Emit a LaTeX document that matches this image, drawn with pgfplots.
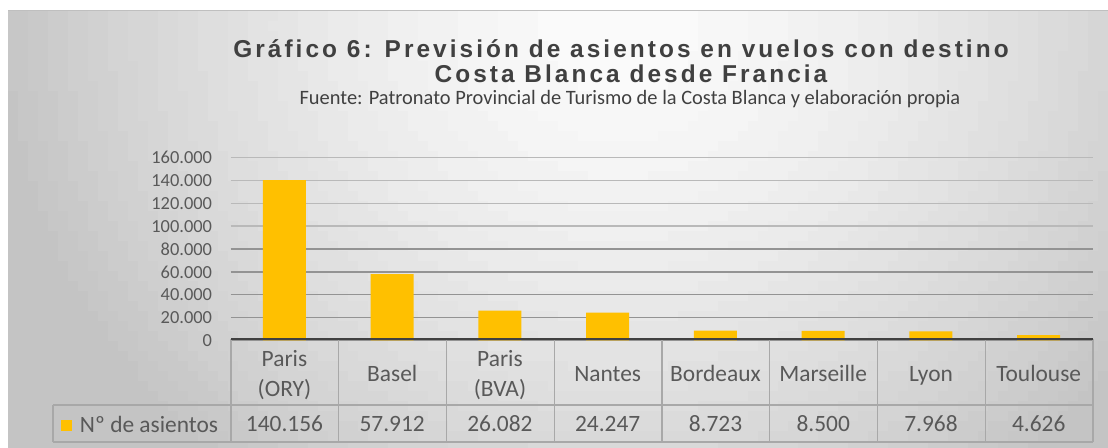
\documentclass[border=0pt]{standalone}
\usepackage{pgfplots}
\pgfplotsset{compat=1.18}
\usepackage{fontspec}
\setmainfont{Carlito}
\newfontfamily\titlefont[LetterSpace=12.5]{Liberation Sans}
\definecolor{barc}{HTML}{FFC000}
\definecolor{txt}{HTML}{595959}
\definecolor{ttl}{HTML}{404040}
\definecolor{tline}{HTML}{A8A8A8}
\begin{document}
\begin{tikzpicture}[x=1bp,y=1bp]
\useasboundingbox (0,0) rectangle (1108,448);
\fill[white] (0,0) rectangle (1108,448);
% background gradient (approximation of the chart-area shading)
\begin{scope}
\clip (8,0) rectangle (1108,437);
\foreach \i in {0,...,109}{
  \foreach \j in {0,...,43}{
    \pgfmathsetmacro\bgdx{(8+\i*10+5-620)/650}
    \pgfmathsetmacro\bgdy{(11+\j*10+5-25)/600}
    \pgfmathsetmacro\bgr{min(0.95,sqrt(\bgdx*\bgdx+\bgdy*\bgdy))+0.001}
    \pgfmathtruncatemacro\bgk{2+23*\bgr*sqrt(\bgr)}
    \fill[black!\bgk] ({8+\i*10},{437-\j*10}) rectangle ++(10.4,-10.4);
  }}
\end{scope}
\draw[gray!50, line width=1bp] (8,437) -- (1108,437);
% titles
\node[anchor=base, text=ttl, inner sep=0, font=\titlefont\bfseries\fontsize{24.5}{28}\selectfont] at (621,390) {Gráfico 6: Previsión de asientos en vuelos con destino};
\node[anchor=base, text=ttl, inner sep=0, font=\titlefont\bfseries\fontsize{24.5}{28}\selectfont] at (631,365) {Costa Blanca desde Francia};
\node[anchor=base, text=ttl, inner sep=0, font=\fontsize{20.5}{24}\selectfont] at (630,343) {Fuente: Patronato Provincial de Turismo de la Costa Blanca y elaboración propia};
\begin{axis}[
  at={(214,94)}, anchor=south west,
  scale only axis, width=862bp, height=183bp,
  xmin=-0.5, xmax=7.5, ymin=0, ymax=160000,
  axis line style={draw=none},
  major tick length=0pt,
  ytick={0,20000,40000,60000,80000},
  extra y ticks={100000,120000,140000,160000},
  ymajorgrids,
  grid style={draw=gray!85, line width=1.3bp},
  extra y tick style={grid style={draw=gray!55, line width=1.3bp}},
  scaled y ticks=false,
  /pgf/number format/.cd, fixed, 1000 sep={.}, assume math mode=true, /pgfplots/.cd,
  yticklabel style={font=\fontsize{18.5}{22}\selectfont, text=txt, xshift=-15bp},
  xtick={0,...,7},
  xticklabels={{\strut Paris\\\strut (ORY)},{\strut Basel},{\strut Paris\\\strut (BVA)},{\strut Nantes},{\strut Bordeaux},{\strut Marseille},{\strut Lyon},{\strut Toulouse}},
  xticklabel style={anchor=center, yshift=-35bp, align=center, text=txt, font=\fontsize{23.5}{30}\selectfont},
  extra x ticks={0,...,7},
  extra x tick labels={{\strut 140.156},{\strut 57.912},{\strut 26.082},{\strut 24.247},{\strut 8.723},{\strut 8.500},{\strut 7.968},{\strut 4.626}},
  extra x tick style={xticklabel style={yshift=-50.5bp}},
  ybar, bar width=43bp,
  legend style={at={(-0.197,-0.4645)}, anchor=west, draw=none, fill=none, font=\fontsize{23.5}{28}\selectfont, text=txt, inner sep=0pt},
  legend image code/.code={\fill[barc] (0bp,-5.5bp) rectangle (11bp,5.5bp); \path (17bp,0bp);},
]
\addplot[fill=barc, draw=none] coordinates {(0,140156) (1,57912) (2,26082) (3,24247) (4,8723) (5,8500) (6,7968) (7,4626)};
\addlegendentry{Nº de asientos}
\end{axis}
% data table lines
\draw[tline, line width=1.2bp] (53,43) -- (1093,43);
\draw[tline, line width=1.2bp] (53,6) -- (1093,6);
\draw[tline, line width=1.2bp] (53,43) -- (53,6);
\foreach \i in {0,...,8} {\draw[tline, line width=1.2bp] ({231+\i*107.75},109) -- ({231+\i*107.75},6);}
\draw[ttl, line width=2bp] (231,108.5) -- (1093,108.5);
\end{tikzpicture}
\end{document}
